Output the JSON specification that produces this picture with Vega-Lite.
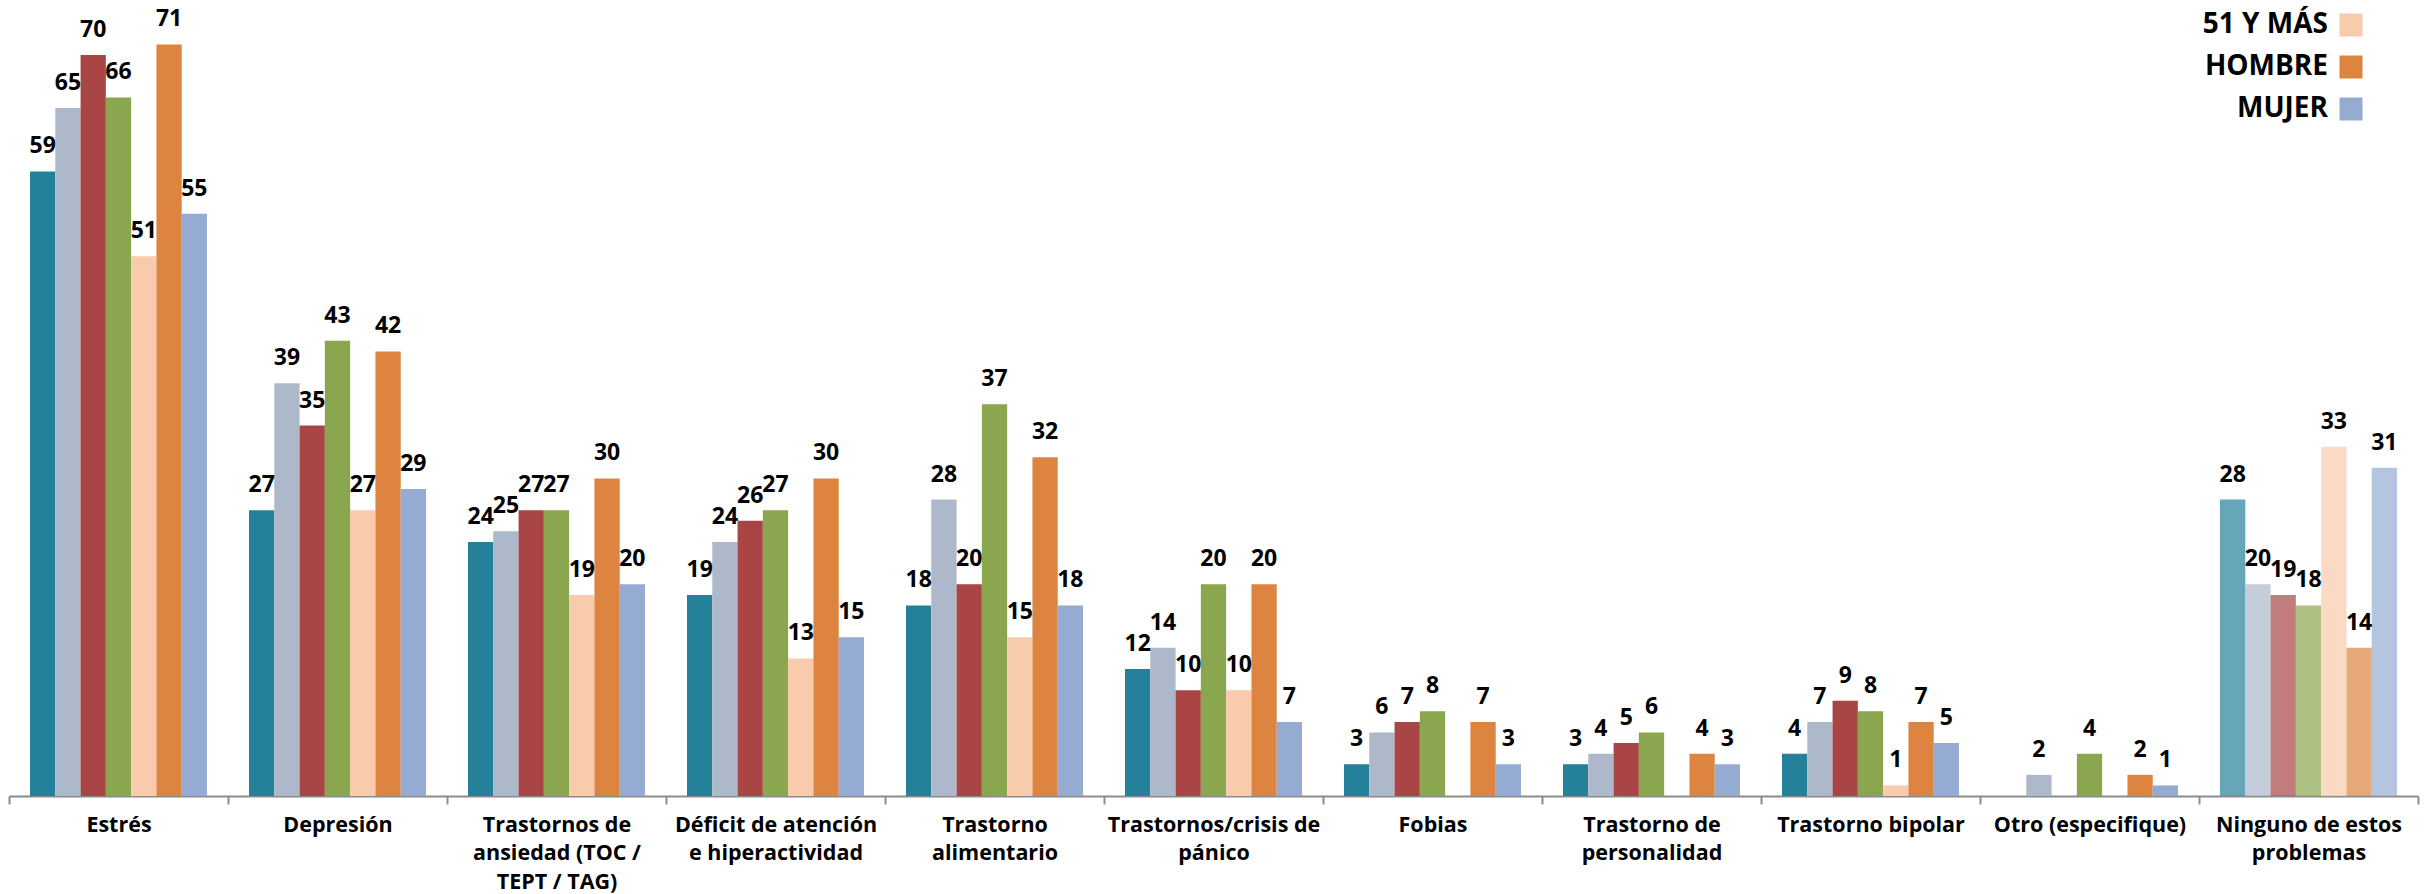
{
  "$schema": "https://vega.github.io/schema/vega-lite/v6.json",
  "autosize": "none",
  "width": 2409,
  "height": 796,
  "padding": {"left": 9, "right": 7, "top": 0, "bottom": 98},
  "background": "white",
  "config": {"view": {"stroke": null}, "font": "Open Sans"},
  "data": {"values": [
    {"c": "Estrés", "g": "18 A 25", "v": 59},
    {"c": "Estrés", "g": "26 A 35", "v": 65},
    {"c": "Estrés", "g": "36 A 45", "v": 70},
    {"c": "Estrés", "g": "46 A 50", "v": 66},
    {"c": "Estrés", "g": "51 Y MÁS", "v": 51},
    {"c": "Estrés", "g": "HOMBRE", "v": 71},
    {"c": "Estrés", "g": "MUJER", "v": 55},
    {"c": "Depresión", "g": "18 A 25", "v": 27},
    {"c": "Depresión", "g": "26 A 35", "v": 39},
    {"c": "Depresión", "g": "36 A 45", "v": 35},
    {"c": "Depresión", "g": "46 A 50", "v": 43},
    {"c": "Depresión", "g": "51 Y MÁS", "v": 27},
    {"c": "Depresión", "g": "HOMBRE", "v": 42},
    {"c": "Depresión", "g": "MUJER", "v": 29},
    {"c": "Trastornos de ansiedad (TOC / TEPT / TAG)", "g": "18 A 25", "v": 24},
    {"c": "Trastornos de ansiedad (TOC / TEPT / TAG)", "g": "26 A 35", "v": 25},
    {"c": "Trastornos de ansiedad (TOC / TEPT / TAG)", "g": "36 A 45", "v": 27},
    {"c": "Trastornos de ansiedad (TOC / TEPT / TAG)", "g": "46 A 50", "v": 27},
    {"c": "Trastornos de ansiedad (TOC / TEPT / TAG)", "g": "51 Y MÁS", "v": 19},
    {"c": "Trastornos de ansiedad (TOC / TEPT / TAG)", "g": "HOMBRE", "v": 30},
    {"c": "Trastornos de ansiedad (TOC / TEPT / TAG)", "g": "MUJER", "v": 20},
    {"c": "Déficit de atención e hiperactividad", "g": "18 A 25", "v": 19},
    {"c": "Déficit de atención e hiperactividad", "g": "26 A 35", "v": 24},
    {"c": "Déficit de atención e hiperactividad", "g": "36 A 45", "v": 26},
    {"c": "Déficit de atención e hiperactividad", "g": "46 A 50", "v": 27},
    {"c": "Déficit de atención e hiperactividad", "g": "51 Y MÁS", "v": 13},
    {"c": "Déficit de atención e hiperactividad", "g": "HOMBRE", "v": 30},
    {"c": "Déficit de atención e hiperactividad", "g": "MUJER", "v": 15},
    {"c": "Trastorno alimentario", "g": "18 A 25", "v": 18},
    {"c": "Trastorno alimentario", "g": "26 A 35", "v": 28},
    {"c": "Trastorno alimentario", "g": "36 A 45", "v": 20},
    {"c": "Trastorno alimentario", "g": "46 A 50", "v": 37},
    {"c": "Trastorno alimentario", "g": "51 Y MÁS", "v": 15},
    {"c": "Trastorno alimentario", "g": "HOMBRE", "v": 32},
    {"c": "Trastorno alimentario", "g": "MUJER", "v": 18},
    {"c": "Trastornos/crisis de pánico", "g": "18 A 25", "v": 12},
    {"c": "Trastornos/crisis de pánico", "g": "26 A 35", "v": 14},
    {"c": "Trastornos/crisis de pánico", "g": "36 A 45", "v": 10},
    {"c": "Trastornos/crisis de pánico", "g": "46 A 50", "v": 20},
    {"c": "Trastornos/crisis de pánico", "g": "51 Y MÁS", "v": 10},
    {"c": "Trastornos/crisis de pánico", "g": "HOMBRE", "v": 20},
    {"c": "Trastornos/crisis de pánico", "g": "MUJER", "v": 7},
    {"c": "Fobias", "g": "18 A 25", "v": 3},
    {"c": "Fobias", "g": "26 A 35", "v": 6},
    {"c": "Fobias", "g": "36 A 45", "v": 7},
    {"c": "Fobias", "g": "46 A 50", "v": 8},
    {"c": "Fobias", "g": "HOMBRE", "v": 7},
    {"c": "Fobias", "g": "MUJER", "v": 3},
    {"c": "Trastorno de personalidad", "g": "18 A 25", "v": 3},
    {"c": "Trastorno de personalidad", "g": "26 A 35", "v": 4},
    {"c": "Trastorno de personalidad", "g": "36 A 45", "v": 5},
    {"c": "Trastorno de personalidad", "g": "46 A 50", "v": 6},
    {"c": "Trastorno de personalidad", "g": "HOMBRE", "v": 4},
    {"c": "Trastorno de personalidad", "g": "MUJER", "v": 3},
    {"c": "Trastorno bipolar", "g": "18 A 25", "v": 4},
    {"c": "Trastorno bipolar", "g": "26 A 35", "v": 7},
    {"c": "Trastorno bipolar", "g": "36 A 45", "v": 9},
    {"c": "Trastorno bipolar", "g": "46 A 50", "v": 8},
    {"c": "Trastorno bipolar", "g": "51 Y MÁS", "v": 1},
    {"c": "Trastorno bipolar", "g": "HOMBRE", "v": 7},
    {"c": "Trastorno bipolar", "g": "MUJER", "v": 5},
    {"c": "Otro (especifique)", "g": "26 A 35", "v": 2},
    {"c": "Otro (especifique)", "g": "46 A 50", "v": 4},
    {"c": "Otro (especifique)", "g": "HOMBRE", "v": 2},
    {"c": "Otro (especifique)", "g": "MUJER", "v": 1},
    {"c": "Ninguno de estos problemas", "g": "18 A 25", "v": 28},
    {"c": "Ninguno de estos problemas", "g": "26 A 35", "v": 20},
    {"c": "Ninguno de estos problemas", "g": "36 A 45", "v": 19},
    {"c": "Ninguno de estos problemas", "g": "46 A 50", "v": 18},
    {"c": "Ninguno de estos problemas", "g": "51 Y MÁS", "v": 33},
    {"c": "Ninguno de estos problemas", "g": "HOMBRE", "v": 14},
    {"c": "Ninguno de estos problemas", "g": "MUJER", "v": 31}
  ]},
  "encoding": {
    "x": {
      "field": "c", "type": "nominal", "sort": null,
      "scale": {"paddingInner": 0, "paddingOuter": 0},
      "axis": {
        "title": null, "labelAngle": 0, "domainColor": "#8c8c8c", "domainWidth": 2,
        "tickColor": "#8c8c8c", "tickWidth": 2, "tickSize": 8, "tickBand": "extent",
        "labelFont": "Open Sans", "labelFontWeight": "bold", "labelFontSize": 21.5,
        "labelColor": "#000000", "labelPadding": 10, "labelLineHeight": 28.5, "labelLimit": 0,
        "labelExpr": "datum.value == 'Trastornos de ansiedad (TOC / TEPT / TAG)' ? ['Trastornos de','ansiedad (TOC /','TEPT / TAG)'] : datum.value == 'Déficit de atención e hiperactividad' ? ['Déficit de atención','e hiperactividad'] : datum.value == 'Trastorno alimentario' ? ['Trastorno','alimentario'] : datum.value == 'Trastornos/crisis de pánico' ? ['Trastornos/crisis de','pánico'] : datum.value == 'Trastorno de personalidad' ? ['Trastorno de','personalidad'] : datum.value == 'Ninguno de estos problemas' ? ['Ninguno de estos','problemas'] : datum.label"
      }
    },
    "xOffset": {
      "field": "g", "type": "nominal",
      "scale": {"domain": ["18 A 25", "26 A 35", "36 A 45", "46 A 50", "51 Y MÁS", "HOMBRE", "MUJER"], "paddingInner": 0, "paddingOuter": 0.83}
    },
    "y": {
      "field": "v", "type": "quantitative",
      "scale": {"domain": [0, 75.2], "nice": false, "zero": true},
      "axis": null
    }
  },
  "layer": [
    {
      "mark": {"type": "bar"},
      "encoding": {
        "color": {
          "field": "g", "type": "nominal",
          "scale": {
            "domain": ["18 A 25", "26 A 35", "36 A 45", "46 A 50", "51 Y MÁS", "HOMBRE", "MUJER"],
            "range": ["#25809A", "#ADB8CB", "#A94545", "#8AA64E", "#F8CBAD", "#DD8540", "#95ABD1"]
          },
          "legend": {
            "values": ["51 Y MÁS", "HOMBRE", "MUJER"],
            "title": null, "orient": "none", "legendX": 2328, "legendY": 11,
            "symbolType": "square", "symbolSize": 529, "symbolStrokeWidth": 0, "symbolOpacity": 1,
            "labelFont": "Open Sans", "labelFontWeight": "bold", "labelFontSize": 28, "labelColor": "#000000",
            "labelAlign": "right", "labelOffset": -37, "rowPadding": 14, "padding": 0
          }
        },
        "opacity": {
          "condition": {"test": "datum.c === 'Ninguno de estos problemas'", "value": 0.7},
          "value": 1
        }
      }
    },
    {
      "mark": {"type": "text", "font": "Open Sans", "fontWeight": "bold", "fontSize": 23, "color": "#000000", "baseline": "alphabetic", "dy": -18},
      "encoding": {"text": {"field": "v", "type": "quantitative"}}
    }
  ]
}
